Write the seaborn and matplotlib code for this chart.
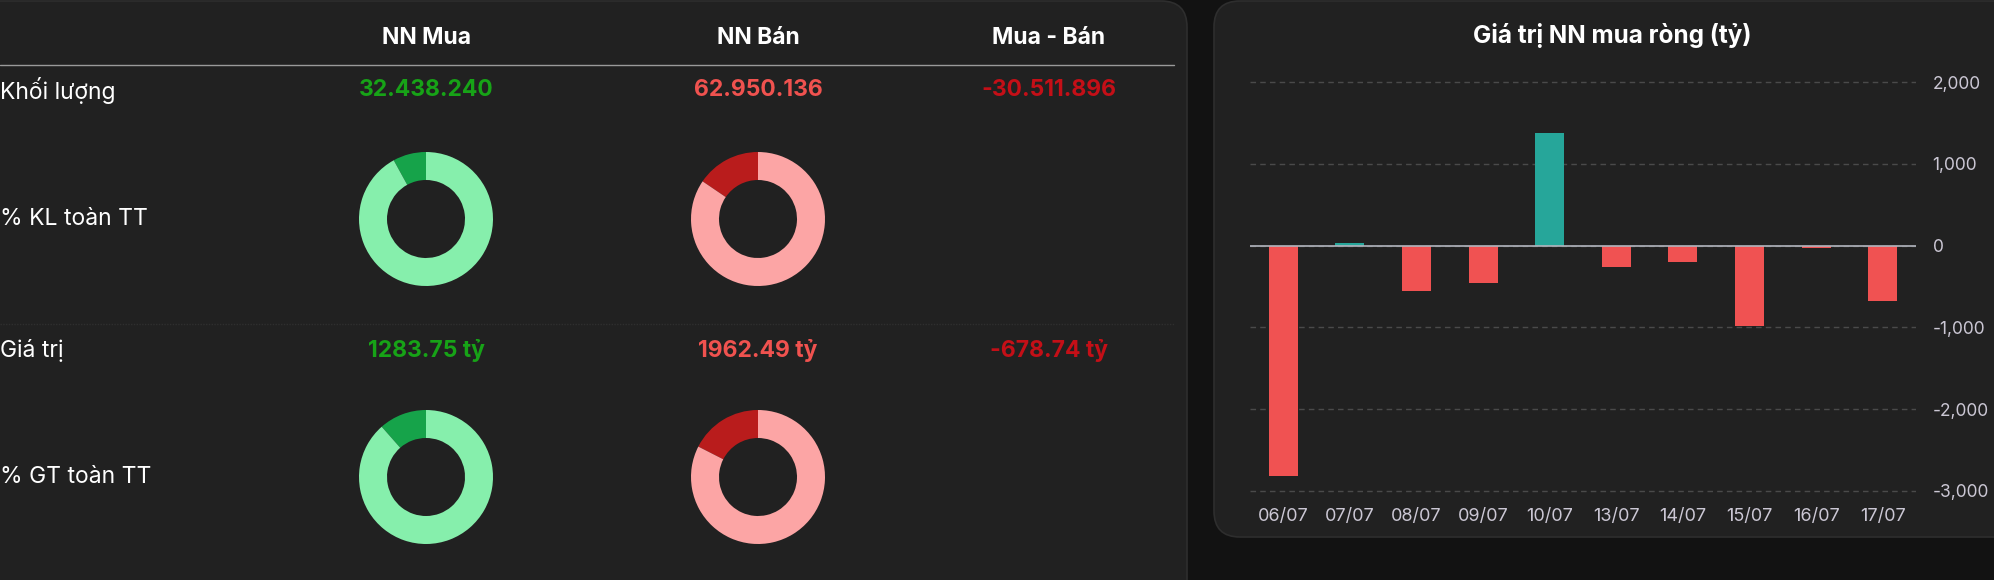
import matplotlib
matplotlib.use("Agg")
import matplotlib.pyplot as plt
from matplotlib.patches import FancyBboxPatch
from matplotlib.ticker import FuncFormatter
import seaborn as sns
import pandas as pd

# ---------------- data ----------------
dates = ['06/07', '07/07', '08/07', '09/07', '10/07', '13/07', '14/07', '15/07', '16/07', '17/07']
net_value = [-2820, 30, -555, -462, 1376, -266, -196, -977, -28, -678.74]

col_headers = ['NN Mua', 'NN Bán', 'Mua - Bán']
row_labels = ['Khối lượng', '% KL toàn TT', 'Giá trị', '% GT toàn TT']
volume = [32438240, 62950136, -30511896]
value = [1283.75, 1962.49, -678.74]
pct_volume = [8.0, 15.5]    # % of whole-market volume (buy, sell)
pct_value = [11.5, 17.5]    # % of whole-market value (buy, sell)

chart_title = 'Giá trị NN mua ròng (tỷ)'

# ---------------- style ----------------
sns.set_theme(style="dark")
plt.rcParams['font.family'] = ['Inter', 'DejaVu Sans']

W, H = 1994, 580
DPI = 100
fig = plt.figure(figsize=(W / DPI, H / DPI), dpi=DPI)
fig.patch.set_facecolor('#121212')

PANEL = '#212121'
BORDER = '#2e2e2e'
WHITE = '#ffffff'
GREEN = '#17a317'
RED = '#f0524f'
DARKRED = '#c40f17'

bg = fig.add_axes([0, 0, 1, 1])
bg.set_xlim(0, W)
bg.set_ylim(H, 0)
bg.axis('off')
bg.set_facecolor('none')

bg.add_patch(FancyBboxPatch((-40, 1), 1227, 640, boxstyle="round,pad=0,rounding_size=26",
                            facecolor=PANEL, edgecolor=BORDER, lw=1.2))
bg.add_patch(FancyBboxPatch((1214, 1), 840, 536, boxstyle="round,pad=0,rounding_size=26",
                            facecolor=PANEL, edgecolor=BORDER, lw=1.2))

# ---------------- left table ----------------
col_x = [426, 758, 1049]
row_y = [90, 219, 351, 477]
FS = 16.5

for x, h in zip(col_x, col_headers):
    bg.text(x, 38, h, color=WHITE, fontsize=FS, fontweight='bold', ha='center', va='center')
bg.plot([0, 1174], [65, 65], color='#9a9a9a', lw=1)
bg.plot([0, 1174], [324, 324], color='#2f2f2f', lw=1, ls=(0, (1, 1)))

for y, lab in zip(row_y, row_labels):
    bg.text(0, y, lab, color=WHITE, fontsize=FS, ha='left', va='center')

val_colors = [GREEN, RED, DARKRED]
for x, v, c in zip(col_x, volume, val_colors):
    bg.text(x, row_y[0], f"{v:,}".replace(',', '.'), color=c, fontsize=FS,
            fontweight='bold', ha='center', va='center')
for x, v, c in zip(col_x, value, val_colors):
    bg.text(x, row_y[2], f"{v:.2f} tỷ", color=c, fontsize=FS,
            fontweight='bold', ha='center', va='center')

R_OUT = 67
R_IN = 39
donut_cols = [('#16a34a', '#86efac'), ('#b91c1c', '#fca5a5')]
for pcts, y in ((pct_volume, row_y[1]), (pct_value, row_y[3])):
    for x, p, (dark, light) in zip(col_x[:2], pcts, donut_cols):
        ax = fig.add_axes([(x - R_OUT) / W, 1 - (y + R_OUT) / H, 2 * R_OUT / W, 2 * R_OUT / H])
        ax.pie([p, 100 - p], colors=[dark, light], startangle=90, counterclock=True,
               radius=1, wedgeprops=dict(width=1 - R_IN / R_OUT, linewidth=0))
        ax.set_xlim(-1, 1)
        ax.set_ylim(-1, 1)
        ax.set_aspect('equal')
        ax.axis('off')
        ax.set_facecolor('none')

# ---------------- right bar chart ----------------
bg.text(1612, 36, chart_title, color=WHITE, fontsize=17.5, fontweight='bold',
        ha='center', va='center')

df = pd.DataFrame({'date': dates, 'net': net_value})
df['sign'] = ['pos' if v >= 0 else 'neg' for v in df['net']]

ax_left, ax_right = 1250, 1916
y_top, y_bot = 80.4, 492.6
ax = fig.add_axes([ax_left / W, 1 - y_bot / H, (ax_right - ax_left) / W, (y_bot - y_top) / H])
ax.set_facecolor('none')
sns.barplot(data=df, x='date', y='net', hue='sign',
            palette={'pos': '#26a69a', 'neg': '#f05252'}, dodge=False, saturation=1,
            legend=False, width=0.435, ax=ax, linewidth=0)
ax.set_xlim(-0.5, len(dates) - 0.5)
ax.set_ylim(-3020, 2020)
ax.set_yticks([-3000, -2000, -1000, 0, 1000, 2000])
ax.yaxis.set_major_formatter(FuncFormatter(lambda v, _: f"{int(v):,}"))
ax.yaxis.tick_right()
ax.grid(axis='y', color='#4a4a4a', ls=(0, (4, 3)), lw=1)
ax.grid(axis='x', visible=False)
ax.axhline(0, color='#b2b5be', lw=1.2, zorder=3)
ax.set_axisbelow(True)
for s in ax.spines.values():
    s.set_visible(False)
ax.set_xlabel('')
ax.set_ylabel('')
ax.tick_params(axis='both', length=0, colors='#cbc7d4')
ax.tick_params(axis='y', pad=12, labelsize=12.5)
ax.tick_params(axis='x', pad=11, labelsize=13)

fig.savefig('out.png', dpi=DPI, facecolor=fig.get_facecolor())
